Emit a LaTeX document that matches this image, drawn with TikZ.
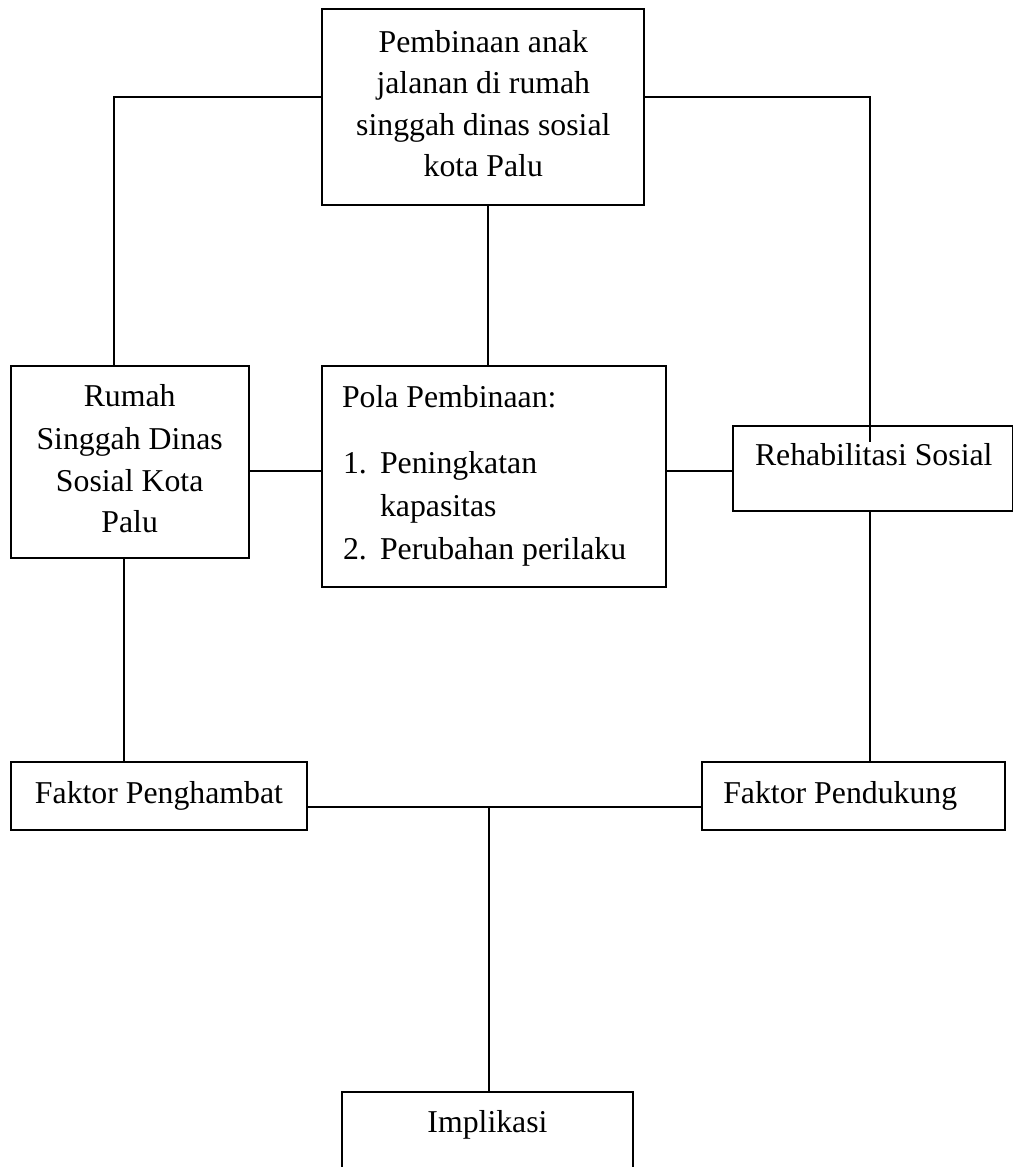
\documentclass[tikz,border=0pt]{standalone}
\usepackage{fontspec}
\setmainfont{Liberation Serif}
\begin{document}
\begin{tikzpicture}[x=0.42pt,y=-0.42pt,
  box/.style={draw=black,line width=0.75pt,inner sep=0pt,outer sep=0pt,fill=none},
  txt/.style={anchor=base,inner sep=0pt,outer sep=0pt,font=\fontsize{13.35}{17.6}\selectfont},
  txtl/.style={txt,anchor=base west},
  conn/.style={draw=black,line width=0.7pt}]
\clip (0,0) rectangle (1014,1167);
\fill[white] (0,0) rectangle (1014,1167);
% boxes
\node[box,minimum width=322*0.42pt,minimum height=195.7*0.42pt] (top) at (483.3,107.2) {};
\node[box,minimum width=238*0.42pt,minimum height=192.6*0.42pt] (rumah) at (129.7,462) {};
\node[box,minimum width=343.4*0.42pt,minimum height=221.6*0.42pt] (pola) at (494,476.5) {};
\node[box,minimum width=279.5*0.42pt,minimum height=85*0.42pt] (rehab) at (872.75,468.2) {};
\node[box,minimum width=296.6*0.42pt,minimum height=67.7*0.42pt] (hambat) at (159,796.2) {};
\node[box,minimum width=303.3*0.42pt,minimum height=67.7*0.42pt] (dukung) at (853.35,796.2) {};
\node[box,minimum width=291.3*0.42pt,minimum height=107.7*0.42pt] (impl) at (487.35,1146.15) {};
% texts
\node[txt] (t1) at (483.3,52) {Pembinaan anak};
\node[txt] (t2) at (483.3,93.5) {jalanan di rumah};
\node[txt] (t3) at (483.3,135) {singgah dinas sosial};
\node[txt] (t4) at (483.3,176.5) {kota Palu};
\node[txt] (r1) at (129.7,406.7) {Rumah};
\node[txt] (r2) at (129.7,449) {Singgah Dinas};
\node[txt] (r3) at (129.7,491) {Sosial Kota};
\node[txt] (r4) at (129.7,532.7) {Palu};
\node[txtl] (p0) at (342,407.7) {Pola Pembinaan:};
\node[txtl] (p1n) at (343,473) {1.};
\node[txtl] (p1) at (380,473) {Peningkatan};
\node[txtl] (p1b) at (380,516) {kapasitas};
\node[txtl] (p2n) at (343,559) {2.};
\node[txtl] (p2) at (380,559) {Perubahan perilaku};
\node[txtl] (rt) at (755,465) {Rehabilitasi Sosial};
\node[txt] (ht) at (159,803) {Faktor Penghambat};
\node[txtl] (dt) at (723.3,803) {Faktor Pendukung};
\node[txt] (it) at (487.5,1132.7) {Implikasi};
% helper coordinates
\coordinate (tl) at (114,96.7);
\coordinate (tr) at (869.7,96.7);
\coordinate (rin) at (869.7,441.7);
\coordinate (cx) at (488.3,0);
\coordinate (mid) at (0,471);
\coordinate (lx) at (124,0);
\coordinate (bot) at (489,806.7);
% connectors
\draw[conn] (tl -| top.west) -- (tl) -- (tl |- rumah.north);
\draw[conn] (tr -| top.east) -- (tr) -- (rin);
\draw[conn] (cx |- top.south) -- (cx |- pola.north);
\draw[conn] (mid -| rumah.east) -- (mid -| pola.west);
\draw[conn] (mid -| pola.east) -- (mid -| rehab.west);
\draw[conn] (tr |- rehab.south) -- (tr |- dukung.north);
\draw[conn] (lx |- rumah.south) -- (lx |- hambat.north);
\draw[conn] (bot -| hambat.east) -- (bot -| dukung.west);
\draw[conn] (bot) -- (bot |- impl.north);
\end{tikzpicture}
\end{document}
